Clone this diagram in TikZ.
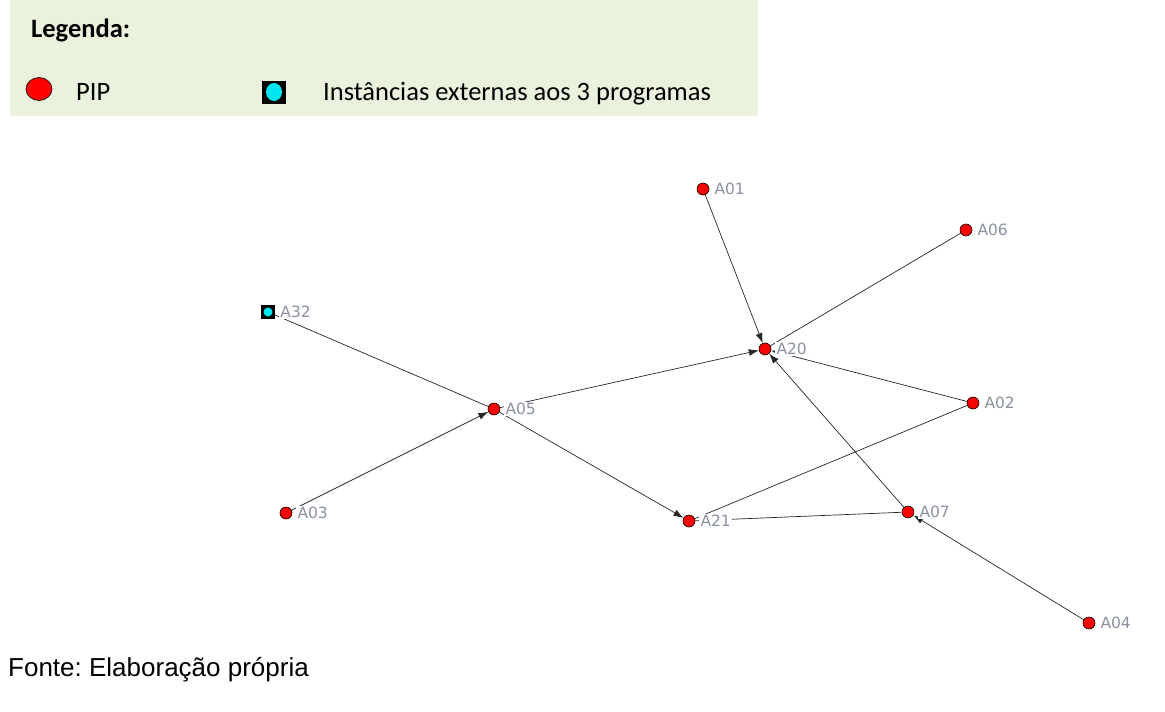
\documentclass[tikz,border=0pt]{standalone}
\usepackage{fontspec}
\setmainfont{Liberation Sans}
\newfontfamily\legfont{Carlito}
\newfontfamily\labfont{DejaVu Sans}
\usetikzlibrary{arrows.meta,shapes.geometric}
\pgfdeclarelayer{edges}
\pgfsetlayers{edges,main}
\frenchspacing
\definecolor{legendbg}{RGB}{234,241,221}
\definecolor{labgray}{RGB}{138,146,160}
\definecolor{extcyan}{RGB}{0,230,240}
\begin{document}
\begin{tikzpicture}[x=1pt,y=-1pt,
  pip/.style={circle,fill=red,draw=black,line width=0.6pt,minimum size=12pt,inner sep=0pt},
  ext/.style={rectangle,fill=black,minimum size=14pt,inner sep=0pt,
    path picture={\fill[extcyan] (path picture bounding box.center) circle (4.5pt);}},
  lab/.style={font=\labfont\fontsize{15.5}{15.5}\selectfont,text=labgray,fill=white,inner sep=1.5pt},
  tag/.style={label={[lab,label distance=3.5pt]right:#1}},
  legtext/.style={font=\legfont\fontsize{26.5}{26.5}\selectfont,anchor=base west,inner sep=0pt},
  edge/.style={draw=black!85,line width=0.7pt},
  arc/.style={edge,-{Latex[length=10pt,width=7pt]}}]
\useasboundingbox (0,0) rectangle (1165,712);

% legend panel
\fill[legendbg] (10,0) rectangle (758,116);
\node[legtext] (legtitle) at (31,37) {\bfseries Legenda:};
\node[ellipse,fill=red,draw=black,line width=0.6pt,minimum width=26pt,minimum height=23pt,inner sep=0pt] (legpip) at (39,89) {};
\node[legtext] (legpiptext) at (76,100) {PIP};
\node[rectangle,fill=black,minimum width=24pt,minimum height=23pt,inner sep=0pt] (legext) at (274,92) {};
\fill[extcyan] (legext.center) ellipse (8pt and 9pt);
\node[legtext] (legexttext) at (323,100) {Instâncias externas aos 3 programas};

% actors
\node[pip,tag=A01] (A01) at (703,189) {};
\node[pip,tag=A06] (A06) at (966,230) {};
\node[ext,tag=A32] (A32) at (268,312) {};
\node[pip,tag=A20] (A20) at (765,349) {};
\node[pip,tag=A05] (A05) at (494,409) {};
\node[pip,tag=A02] (A02) at (973,403) {};
\node[pip,tag=A03] (A03) at (286,513) {};
\node[pip,tag=A21] (A21) at (689,521) {};
\node[pip,tag=A07] (A07) at (908,512) {};
\node[pip,tag=A04] (A04) at (1089,623) {};

% ties
\begin{pgfonlayer}{edges}
\draw[arc] (A01) -- (A20);
\draw[edge] (A06) -- (A20);
\draw[edge] (A32) -- (A05);
\draw[arc] (A03) -- (A05);
\draw[arc] (A05) -- (A20);
\draw[arc] (A05) -- (A21);
\draw[arc] (A02) -- (A20);
\draw[arc] (A07) -- (A20);
\draw[edge] (A21) -- (A02);
\draw[edge] (A21) -- (A07);
\draw[arc] (A04) -- (A07);
\end{pgfonlayer}

\node[anchor=base west,inner sep=0pt,font=\fontsize{26}{26}\selectfont] (source) at (8,676) {Fonte: Elaboração própria};
\end{tikzpicture}
\end{document}
